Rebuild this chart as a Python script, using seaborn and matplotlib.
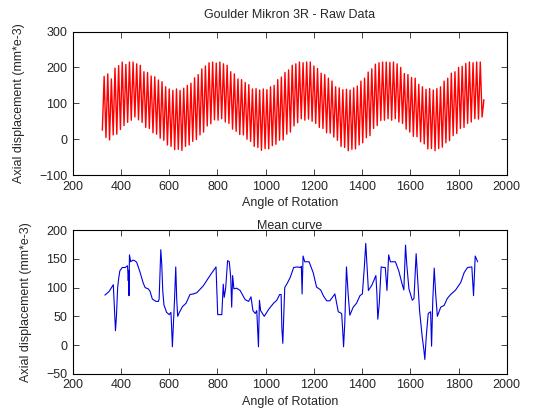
import matplotlib
matplotlib.use("Agg")
import matplotlib.pyplot as plt
import seaborn as sns
import numpy as np
import pandas as pd

# raw signal: one peak and one trough per tooth, 15 deg apart
raw_start_angle = 322.5
raw_step = 7.5
raw_first = 25
raw_last = 110
raw_peaks = [175, 182, 168, 198, 205, 215, 208, 215, 215, 210,
             206, 188, 186, 176, 174, 165, 160, 146, 140, 136,
             140, 136, 142, 150, 156, 171, 180, 196, 204, 213,
             215, 212, 215, 210, 206, 188, 182, 168, 166, 158,
             152, 140, 141, 137, 140, 138, 146, 150, 166, 173,
             186, 193, 206, 210, 215, 213, 215, 215, 204, 197,
             184, 180, 170, 162, 146, 143, 138, 139, 137, 143,
             148, 162, 170, 187, 196, 209, 213, 215, 215, 214,
             215, 210, 200, 183, 180, 172, 170, 153, 146, 139,
             141, 137, 141, 146, 162, 170, 184, 188, 200, 203,
             211, 215, 213, 215, 215]
raw_troughs = [5, -2, 12, 14, 27, 38, 47, 53, 62, 54,
               47, 33, 30, 18, 14, 3, -3, -16, -20, -29,
               -28, -31, -20, -16, -6, -1, 12, 20, 37, 43,
               54, 53, 57, 48, 44, 28, 22, 13, 12, 0,
               -6, -20, -23, -31, -26, -27, -18, -14, -3, -2,
               14, 20, 37, 46, 57, 53, 56, 50, 44, 33,
               30, 18, 17, 6, -3, -20, -23, -32, -28, -27,
               -16, -10, 4, 10, 30, 38, 52, 53, 57, 53,
               57, 48, 44, 28, 20, 8, 7, -7, -13, -27,
               -26, -32, -26, -22, -10, -4, 10, 16, 30, 33,
               44, 48, 57, 56, 62]

# mean curve
mean_angle = [333, 350, 368, 373, 377, 381, 386, 390, 395, 405, 418, 423, 427, 430, 432,
              433, 435, 440, 450, 460, 465, 478, 492, 500, 512, 520, 530, 545, 555, 558,
              562, 565, 569, 573, 578, 589, 600, 607, 610, 613, 617, 622, 627, 631, 635,
              642, 655, 670, 686, 700, 714, 741, 769, 794, 801, 818, 824, 828, 834, 842,
              849, 855, 859, 863, 868, 880, 894, 915, 929, 939, 947, 957, 963, 970, 974,
              979, 994, 1012, 1033, 1046, 1058, 1064, 1067, 1071, 1075, 1079, 1090, 1102, 1116, 1130,
              1144, 1148, 1151, 1155, 1162, 1180, 1197, 1211, 1228, 1239, 1253, 1266, 1287, 1301, 1315,
              1319, 1323, 1328, 1335, 1342, 1349, 1363, 1377, 1391, 1401, 1409, 1415, 1420, 1426, 1440,
              1457, 1461, 1465, 1471, 1479, 1490, 1496, 1503, 1510, 1517, 1538, 1552, 1566, 1573, 1580,
              1585, 1594, 1608, 1615, 1624, 1630, 1638, 1649, 1656, 1660, 1666, 1674, 1684, 1688, 1693,
              1699, 1705, 1712, 1726, 1740, 1753, 1767, 1788, 1809, 1823, 1837, 1855, 1862, 1869, 1879]
mean_disp = [87, 93, 105, 60, 25, 50, 100, 115, 129, 135, 135, 137, 138, 112, 130,
             86, 157, 145, 148, 146, 144, 128, 108, 100, 98, 94, 80, 76, 76, 80,
             130, 166, 140, 95, 70, 57, 53, 57, 30, -3, 35, 80, 136, 80, 50,
             57, 67, 73, 88, 89, 91, 103, 121, 136, 53, 53, 106, 83, 99, 147,
             145, 118, 66, 121, 98, 99, 95, 79, 76, 84, 60, 55, 60, -3, 78,
             60, 50, 62, 73, 78, 88, 88, 30, 3, 50, 100, 108, 118, 135, 136,
             135, 137, 89, 155, 145, 145, 126, 101, 96, 86, 77, 77, 89, 58, 55,
             29, -3, 38, 136, 89, 52, 66, 73, 86, 89, 135, 177, 141, 95, 104,
             121, 92, 45, 72, 136, 135, 135, 95, 157, 145, 145, 129, 106, 96, 174,
             141, 98, 78, 81, 159, 118, 61, 15, -8, -25, 15, 55, 58, -2, 78,
             134, 89, 50, 66, 69, 81, 88, 96, 109, 126, 135, 136, 86, 155, 145]

raw_disp = [raw_first]
for p, t in zip(raw_peaks, raw_troughs):
    raw_disp += [p, t]
raw_disp.append(raw_last)
raw = pd.DataFrame({"angle": raw_start_angle + raw_step * np.arange(len(raw_disp)),
                    "disp": raw_disp})
mean = pd.DataFrame({"angle": mean_angle, "disp": mean_disp})

sns.set_style("white")
plt.rcParams["font.family"] = ["Liberation Sans", "DejaVu Sans"]

fig = plt.figure(figsize=(5.6, 4.2), dpi=100)
ax1 = fig.add_axes([0.13, 0.583, 0.775, 0.342])
ax2 = fig.add_axes([0.13, 0.11, 0.775, 0.342])

sns.lineplot(data=raw, x="angle", y="disp", ax=ax1, color="#ff0000",
             lw=1.0, estimator=None, sort=False)
sns.lineplot(data=mean, x="angle", y="disp", ax=ax2, color="#0000e0",
             lw=0.8, estimator=None, sort=False)

ax1.set_ylim(-100, 300)
ax1.set_yticks(range(-100, 301, 100))
ax2.set_ylim(-50, 200)
ax2.set_yticks(range(-50, 201, 50))
ax1.set_title("Goulder Mikron 3R - Raw Data", fontsize=9, pad=10)
ax2.set_title("Mean curve", fontsize=9, pad=1)

for ax in (ax1, ax2):
    ax.set_xlim(200, 2000)
    ax.set_xticks(range(200, 2001, 200))
    ax.set_xlabel("Angle of Rotation", fontsize=9, labelpad=3)
    ax.set_ylabel("Axial displacement (mm*e-3)", fontsize=9, labelpad=10)
    ax.tick_params(direction="in", length=4, width=0.6, labelsize=9,
                   top=True, right=True, bottom=True, left=True, pad=4)
    for s in ax.spines.values():
        s.set_color("black")
        s.set_linewidth(0.8)

fig.savefig("out.png", dpi=100, facecolor="white")
